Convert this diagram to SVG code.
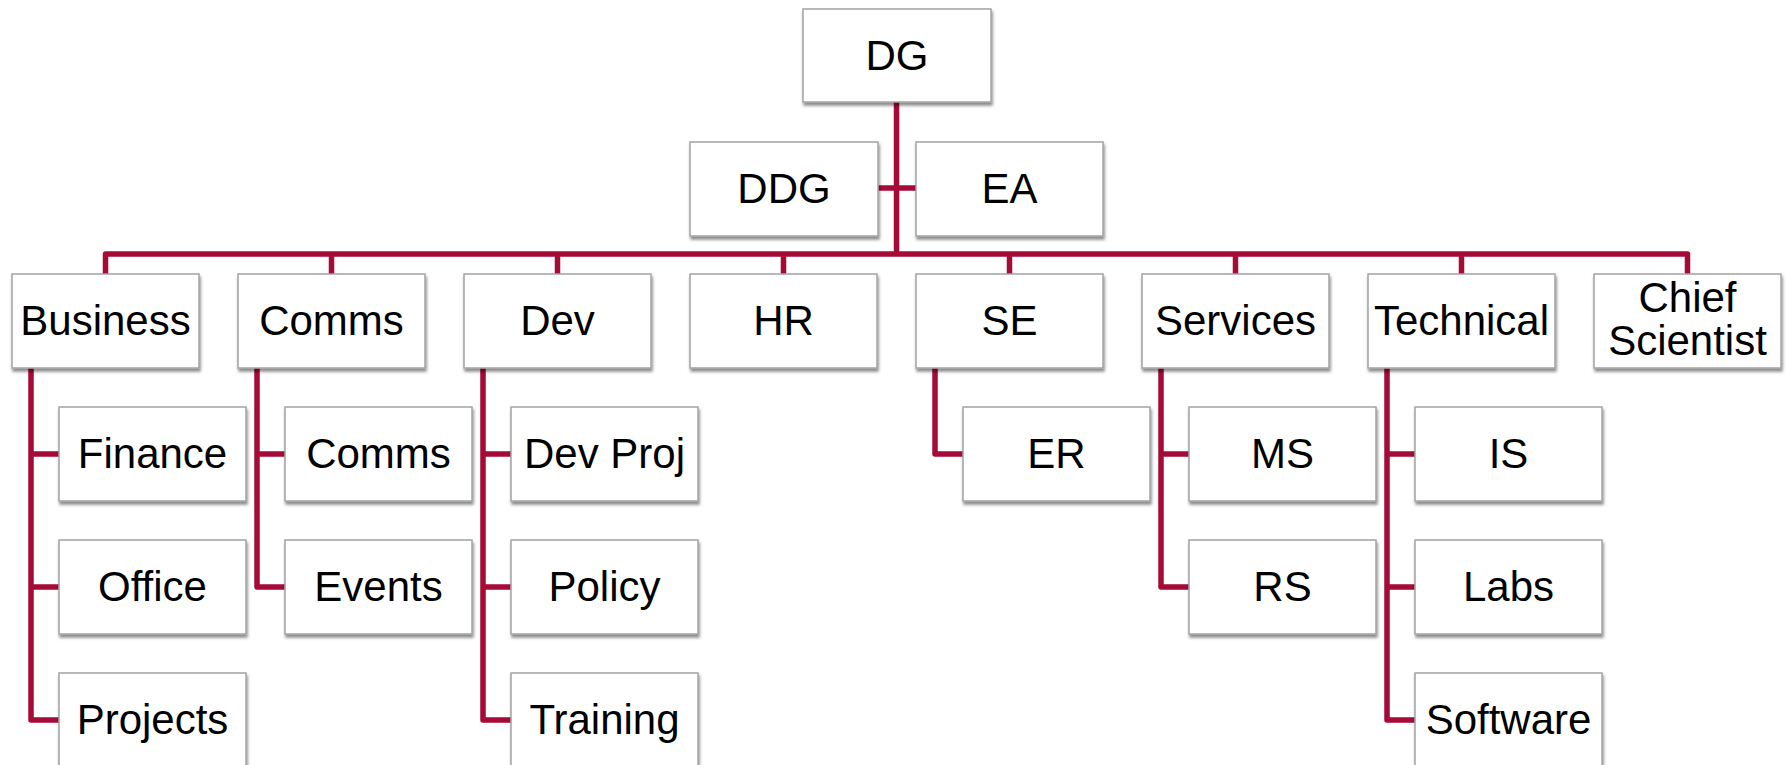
<svg xmlns="http://www.w3.org/2000/svg" width="1787" height="765" viewBox="0 0 1787 765">
  <defs>
    <filter id="shadow" x="-10%" y="-10%" width="125%" height="130%">
      <feDropShadow dx="1" dy="3" stdDeviation="1.6" flood-color="#000" flood-opacity="0.45"/>
    </filter>
  </defs>
  <style>
    .box { fill: #ffffff; stroke: #a3a3a3; stroke-width: 1.5; filter: url(#shadow); }
    .lbl { font-family: "Liberation Sans", Arial, sans-serif; font-size: 42px; fill: #000; text-anchor: middle; }
    .wire { fill: none; stroke: #a60a36; stroke-width: 5.5; stroke-linejoin: round; stroke-linecap: butt; }
  </style>
  <rect width="1787" height="765" fill="#ffffff"/>

  <!-- connectors -->
  <g id="connectors">
    <!-- DG down to the bus, DDG/EA side link -->
    <path class="wire" d="M896.5 102 V254"/>
    <path class="wire" d="M878 188 H916"/>
    <!-- bus across the divisions -->
    <path class="wire" d="M105.5 274 V254 H1687.5 V274"/>
    <path class="wire" d="M331.5 254 V274 M557.5 254 V274 M783.5 254 V274 M1009.5 254 V274 M1235.5 254 V274 M1461.5 254 V274"/>
    <!-- Business -->
    <path class="wire" d="M31 368 V720 H59 M31 454 H59 M31 587 H59"/>
    <!-- Comms -->
    <path class="wire" d="M257 368 V587 H285 M257 454 H285"/>
    <!-- Dev -->
    <path class="wire" d="M483 368 V720 H511 M483 454 H511 M483 587 H511"/>
    <!-- SE -->
    <path class="wire" d="M935 368 V454 H963"/>
    <!-- Services -->
    <path class="wire" d="M1161 368 V587 H1189 M1161 454 H1189"/>
    <!-- Technical -->
    <path class="wire" d="M1387 368 V720 H1415 M1387 454 H1415 M1387 587 H1415"/>
  </g>

  <!-- top -->
  <g id="node-dg"><rect class="box" x="803" y="9" width="188" height="93"/><text class="lbl" x="897" y="70">DG</text></g>
  <g id="node-ddg"><rect class="box" x="690" y="142" width="188" height="94"/><text class="lbl" x="784" y="203">DDG</text></g>
  <g id="node-ea"><rect class="box" x="916" y="142" width="187" height="94"/><text class="lbl" x="1009.5" y="203">EA</text></g>

  <!-- divisions -->
  <g id="node-business"><rect class="box" x="12" y="274" width="187" height="94"/><text class="lbl" x="105.5" y="335">Business</text></g>
  <g id="node-comms"><rect class="box" x="238" y="274" width="187" height="94"/><text class="lbl" x="331.5" y="335">Comms</text></g>
  <g id="node-dev"><rect class="box" x="464" y="274" width="187" height="94"/><text class="lbl" x="557.5" y="335">Dev</text></g>
  <g id="node-hr"><rect class="box" x="690" y="274" width="187" height="94"/><text class="lbl" x="783.5" y="335">HR</text></g>
  <g id="node-se"><rect class="box" x="916" y="274" width="187" height="94"/><text class="lbl" x="1009.5" y="335">SE</text></g>
  <g id="node-services"><rect class="box" x="1142" y="274" width="187" height="94"/><text class="lbl" x="1235.5" y="335">Services</text></g>
  <g id="node-technical"><rect class="box" x="1368" y="274" width="187" height="94"/><text class="lbl" x="1461.5" y="335">Technical</text></g>
  <g id="node-chief-scientist"><rect class="box" x="1594" y="274" width="187" height="94"/><text class="lbl" x="1687.5" y="312">Chief</text><text class="lbl" x="1687.5" y="355">Scientist</text></g>

  <!-- Business units -->
  <g id="node-finance"><rect class="box" x="59" y="407" width="187" height="94"/><text class="lbl" x="152.5" y="468">Finance</text></g>
  <g id="node-office"><rect class="box" x="59" y="540" width="187" height="94"/><text class="lbl" x="152.5" y="601">Office</text></g>
  <g id="node-projects"><rect class="box" x="59" y="673" width="187" height="94"/><text class="lbl" x="152.5" y="734">Projects</text></g>

  <!-- Comms units -->
  <g id="node-comms-unit"><rect class="box" x="285" y="407" width="187" height="94"/><text class="lbl" x="378.5" y="468">Comms</text></g>
  <g id="node-events"><rect class="box" x="285" y="540" width="187" height="94"/><text class="lbl" x="378.5" y="601">Events</text></g>

  <!-- Dev units -->
  <g id="node-dev-proj"><rect class="box" x="511" y="407" width="187" height="94"/><text class="lbl" x="604.5" y="468">Dev Proj</text></g>
  <g id="node-policy"><rect class="box" x="511" y="540" width="187" height="94"/><text class="lbl" x="604.5" y="601">Policy</text></g>
  <g id="node-training"><rect class="box" x="511" y="673" width="187" height="94"/><text class="lbl" x="604.5" y="734">Training</text></g>

  <!-- SE unit -->
  <g id="node-er"><rect class="box" x="963" y="407" width="187" height="94"/><text class="lbl" x="1056.5" y="468">ER</text></g>

  <!-- Services units -->
  <g id="node-ms"><rect class="box" x="1189" y="407" width="187" height="94"/><text class="lbl" x="1282.5" y="468">MS</text></g>
  <g id="node-rs"><rect class="box" x="1189" y="540" width="187" height="94"/><text class="lbl" x="1282.5" y="601">RS</text></g>

  <!-- Technical units -->
  <g id="node-is"><rect class="box" x="1415" y="407" width="187" height="94"/><text class="lbl" x="1508.5" y="468">IS</text></g>
  <g id="node-labs"><rect class="box" x="1415" y="540" width="187" height="94"/><text class="lbl" x="1508.5" y="601">Labs</text></g>
  <g id="node-software"><rect class="box" x="1415" y="673" width="187" height="94"/><text class="lbl" x="1508.5" y="734">Software</text></g>
</svg>
